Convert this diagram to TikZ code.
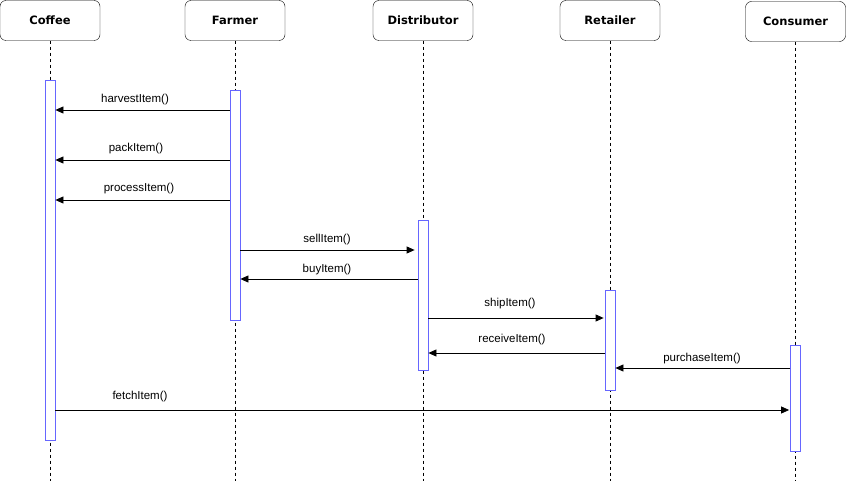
\documentclass[tikz,border=0pt]{standalone}
\usepackage{fontspec}
\setmainfont{Liberation Sans}
\newfontfamily\hdrfont{DejaVu Sans}
\usetikzlibrary{arrows.meta}
\definecolor{actblue}{RGB}{102,102,255}
\tikzset{
  header/.style={draw=black, rounded corners=6pt, minimum width=100pt, minimum height=40pt, inner sep=0pt, font=\hdrfont\bfseries\fontsize{11.5}{13}\selectfont, fill=white},
  lifeline/.style={draw=black, dash pattern=on 3pt off 3pt, line width=0.8pt},
  actbar/.style={draw=actblue, fill=white, minimum width=10pt, inner sep=0pt, line width=0.8pt, anchor=north},
  msg/.style={draw=black, line width=0.8pt, -{Triangle[length=8pt,width=7pt]}},
  lbl/.style={font=\fontsize{11.5}{13}\selectfont, inner sep=0pt}
}
\begin{document}
\begin{tikzpicture}[x=1pt,y=-1pt]
\useasboundingbox (0,0) rectangle (846,481);
% headers
\node[header] (coffee) at (50,20.5) {Coffee};
\node[header] (farmer) at (235,20.5) {Farmer};
\node[header] (dist) at (423,20.5) {Distributor};
\node[header] (ret) at (610,20.5) {Retailer};
\node[header] (cons) at (795.5,21.5) {Consumer};
% lifeline ends
\coordinate (coffeeEnd) at (50,481);
\coordinate (farmerEnd) at (235,481);
\coordinate (distEnd) at (423,481);
\coordinate (retEnd) at (610,481);
\coordinate (consEnd) at (795.5,481);
\draw[lifeline] (coffee.south) -- (coffeeEnd);
\draw[lifeline] (farmer.south) -- (farmerEnd);
\draw[lifeline] (dist.south) -- (distEnd);
\draw[lifeline] (ret.south) -- (retEnd);
\draw[lifeline] (cons.south) -- (consEnd);
% activation bars
\node[actbar, minimum height=360pt] (ca) at (50,80) {};
\node[actbar, minimum height=230pt] (fa) at (235,90) {};
\node[actbar, minimum height=150pt] (da) at (423,220) {};
\node[actbar, minimum height=100pt] (ra) at (610,290) {};
\node[actbar, minimum height=106pt] (na) at (795.5,345) {};
% message levels
\coordinate (y1) at (0,110);
\coordinate (y2) at (0,160);
\coordinate (y3) at (0,200);
\coordinate (y4) at (0,250);
\coordinate (y5) at (0,279);
\coordinate (y6) at (0,318);
\coordinate (y7) at (0,353);
\coordinate (y8) at (0,368);
\coordinate (y9) at (0,410);
% messages
\draw[msg] (fa.west |- y1) -- (ca.east |- y1);
\draw[msg] (fa.west |- y2) -- (ca.east |- y2);
\draw[msg] (fa.west |- y3) -- (ca.east |- y3);
\draw[msg, shorten >=3pt] (fa.east |- y4) -- (da.west |- y4);
\draw[msg] (da.west |- y5) -- (fa.east |- y5);
\draw[msg, shorten >=1pt] (da.east |- y6) -- (ra.west |- y6);
\draw[msg] (ra.west |- y7) -- (da.east |- y7);
\draw[msg] (na.west |- y8) -- (ra.east |- y8);
\draw[msg, shorten >=1pt] (ca.east |- y9) -- (na.west |- y9);
% labels
\node[lbl] (l1) at (135,100) {harvestItem()};
\node[lbl] (l2) at (136,149) {packItem()};
\node[lbl] (l3) at (139,189) {processItem()};
\node[lbl] (l4) at (327,240) {sellItem()};
\node[lbl] (l5) at (327,270) {buyItem()};
\node[lbl] (l6) at (510,304) {shipItem()};
\node[lbl] (l7) at (512,340) {receiveItem()};
\node[lbl] (l8) at (702,359) {purchaseItem()};
\node[lbl] (l9) at (140,397) {fetchItem()};
\end{tikzpicture}
\end{document}
